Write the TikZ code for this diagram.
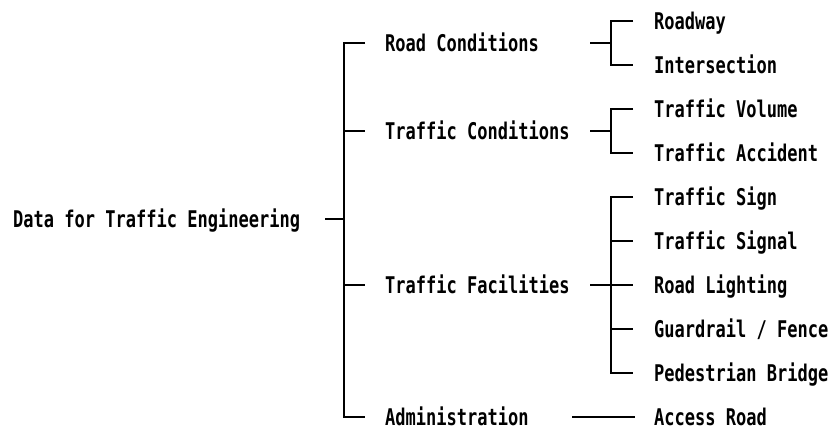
\documentclass[tikz,border=0pt]{standalone}
\usepackage{fontspec}
\newfontfamily\labelfont[FakeStretch=0.74]{DejaVu Sans Mono}
\usetikzlibrary{calc}

\begin{document}
\begin{tikzpicture}[x=1pt,y=-1pt,
  lbl/.style={anchor=west, inner sep=0pt, text height=16pt, text depth=0pt,
              font=\labelfont\bfseries\fontsize{23}{23}\selectfont},
  conn/.style={draw=black, line width=1.6pt, line cap=butt, line join=miter}]
\useasboundingbox (0,0) rectangle (833,432);

% column positions of the two bracket spines
\coordinate (k1) at (344,0);
\coordinate (k2) at (611,0);

% root
\node[lbl] (root) at (13,219) {Data for Traffic Engineering};

% first level
\node[lbl] (rc)  at (385,43)  {Road Conditions};
\node[lbl] (tc)  at (385,131) {Traffic Conditions};
\node[lbl] (tf)  at (385,285) {Traffic Facilities};
\node[lbl] (adm) at (385,417) {Administration};

% second level
\node[lbl] (rw)  at (654,21)  {Roadway};
\node[lbl] (is)  at (654,65)  {Intersection};
\node[lbl] (tv)  at (654,109) {Traffic Volume};
\node[lbl] (ta)  at (654,153) {Traffic Accident};
\node[lbl] (ts)  at (654,197) {Traffic Sign};
\node[lbl] (sg)  at (654,241) {Traffic Signal};
\node[lbl] (rl)  at (654,285) {Road Lighting};
\node[lbl] (gf)  at (654,329) {Guardrail / Fence};
\node[lbl] (pb)  at (654,373) {Pedestrian Bridge};
\node[lbl] (ar)  at (654,417) {Access Road};

% root to first level
\draw[conn] ([xshift=25pt]root.east) -- (root.west -| k1);
\draw[conn] ([xshift=-20pt]rc.west) -| (root.west -| k1) |- ([xshift=-20pt]adm.west);
\draw[conn] (tc.west -| k1) -- ([xshift=-20pt]tc.west);
\draw[conn] (tf.west -| k1) -- ([xshift=-20pt]tf.west);

% road conditions
\draw[conn] ($(rc.west -| k2)+(-21,0)$) -- (rc.west -| k2);
\draw[conn] ([xshift=-21pt]rw.west) -| (rc.west -| k2) |- ([xshift=-21pt]is.west);

% traffic conditions
\draw[conn] ($(tc.west -| k2)+(-21,0)$) -- (tc.west -| k2);
\draw[conn] ([xshift=-21pt]tv.west) -| (tc.west -| k2) |- ([xshift=-21pt]ta.west);

% traffic facilities
\draw[conn] ([xshift=-21pt]ts.west) -| (tf.west -| k2) |- ([xshift=-21pt]pb.west);
\draw[conn] ($(tf.west -| k2)+(-21,0)$) -- ([xshift=-21pt]rl.west);
\draw[conn] (sg.west -| k2) -- ([xshift=-21pt]sg.west);
\draw[conn] (gf.west -| k2) -- ([xshift=-21pt]gf.west);

% administration
\draw[conn] ($(adm.west -| k2)+(-39,0)$) -- ([xshift=-19pt]ar.west);
\end{tikzpicture}
\end{document}
